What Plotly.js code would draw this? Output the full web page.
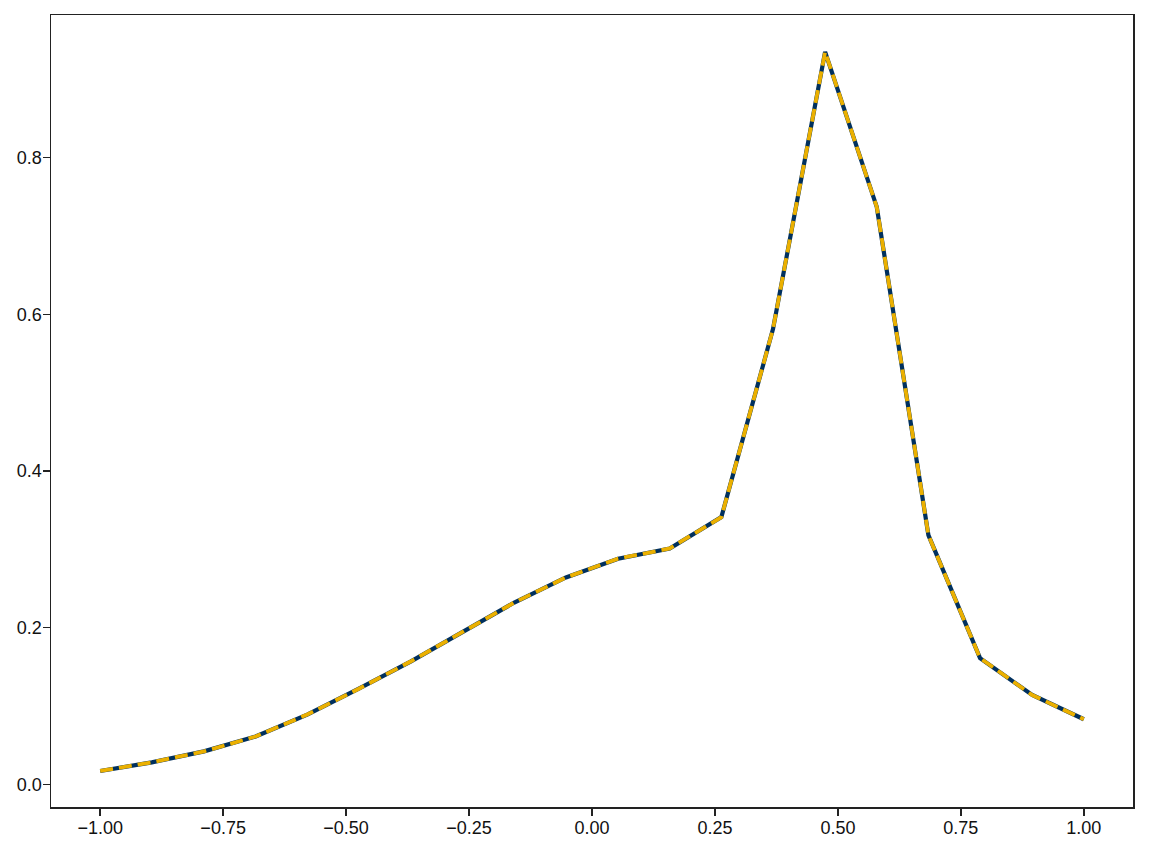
<!DOCTYPE html>
<html>
<head>
<meta charset="utf-8">
<script src="https://cdn.plot.ly/plotly-3.0.1.min.js"></script>
<style>
  html, body { margin: 0; padding: 0; background: #fff; }
  #myDiv { width: 1149px; height: 849px; }
</style>
</head>
<body>
<div id="myDiv"></div>
<script>
  var x_vals = [-1.000, -0.895, -0.789, -0.684, -0.579, -0.474, -0.368, -0.263, -0.158, -0.053,
                0.053, 0.158, 0.263, 0.368, 0.474, 0.579, 0.684, 0.789, 0.895, 1.000];
  var y_vals = [0.017, 0.028, 0.042, 0.061, 0.089, 0.122, 0.157, 0.195, 0.232, 0.264,
                0.288, 0.301, 0.341, 0.581, 0.935, 0.737, 0.318, 0.161, 0.114, 0.083];
  var x_ticks = [-1.0, -0.75, -0.5, -0.25, 0.0, 0.25, 0.5, 0.75, 1.0];
  var x_labels = ['\u22121.00', '\u22120.75', '\u22120.50', '\u22120.25', '0.00', '0.25', '0.50', '0.75', '1.00'];
  var y_ticks = [0.0, 0.2, 0.4, 0.6, 0.8];
  var y_labels = ['0.0', '0.2', '0.4', '0.6', '0.8'];

  var trace0 = {
    x: x_vals,
    y: y_vals,
    name: 'solid',
    type: 'scatter',
    mode: 'lines',
    line: {color: '#00305e', width: 4.2}
  };

  var trace1 = {
    x: x_vals,
    y: y_vals,
    name: 'dashed',
    type: 'scatter',
    mode: 'lines',
    line: {color: '#ebb000', width: 3.8, dash: '13px,6px'}
  };

  var axisStyle = {
    showgrid: false,
    zeroline: false,
    showline: true,
    mirror: true,
    linecolor: '#222',
    linewidth: 1.5,
    ticks: 'outside',
    ticklen: 7,
    tickwidth: 1.4,
    tickcolor: '#222',
    ticklabelstandoff: -3,
    tickfont: {family: 'Liberation Sans, Arial, sans-serif', size: 18, color: '#111'}
  };

  var layout = {
    width: 1149,
    height: 849,
    showlegend: false,
    paper_bgcolor: '#fff',
    plot_bgcolor: '#fff',
    margin: {l: 51, r: 16, t: 15, b: 42},
    xaxis: Object.assign({}, axisStyle, {
      range: [-1.1, 1.1],
      tickmode: 'array',
      tickvals: x_ticks,
      ticktext: x_labels
    }),
    yaxis: Object.assign({}, axisStyle, {
      range: [-0.029, 0.982],
      tickmode: 'array',
      tickvals: y_ticks,
      ticktext: y_labels
    })
  };

  Plotly.newPlot('myDiv', [trace0, trace1], layout, {displayModeBar: false, staticPlot: true});
</script>
</body>
</html>
